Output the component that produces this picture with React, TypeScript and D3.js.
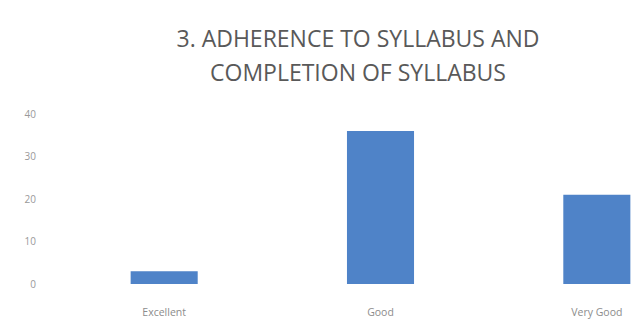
import React from "react";
import * as d3 from "d3";

const categories = ["Excellent", "Good", "Very Good"];
const values = [3, 36, 21];
const yTicks = [0, 10, 20, 30, 40];
const titleLines = ["3. ADHERENCE TO SYLLABUS AND", "COMPLETION OF SYLLABUS"];

export default function App() {
  const W = 644, H = 325;
  const x = d3.scaleBand<string>().domain(categories).range([56, 705]).paddingInner(0.69).paddingOuter(0.345);
  const y = d3.scaleLinear().domain([0, 40]).range([284, 114]);
  const font = "'Open Sans', 'Liberation Sans', sans-serif";
  return (
    <svg width={W} height={H} style={{ position: "absolute", left: 0, top: 0, background: "#fff" }}>
      {titleLines.map((t, i) => (
        <text key={i} x={358} y={47 + i * 34} textAnchor="middle" fontFamily={font} fontSize={23} fill="#595959">{t}</text>
      ))}
      {yTicks.map(t => (
        <text key={t} x={36} y={y(t)} dy="0.35em" textAnchor="end" fontFamily={font} fontSize={10} fill="#999999">{t}</text>
      ))}
      {categories.map((c, i) => (
        <rect key={c} x={x(c)} y={y(values[i])} width={x.bandwidth()} height={y(0) - y(values[i])} fill="#4f83c8" />
      ))}
      {categories.map(c => (
        <text key={c} x={(x(c) as number) + x.bandwidth() / 2} y={312} dy="0.35em" textAnchor="middle" fontFamily={font} fontSize={10.5} fill="#8c8c8c">{c}</text>
      ))}
    </svg>
  );
}
